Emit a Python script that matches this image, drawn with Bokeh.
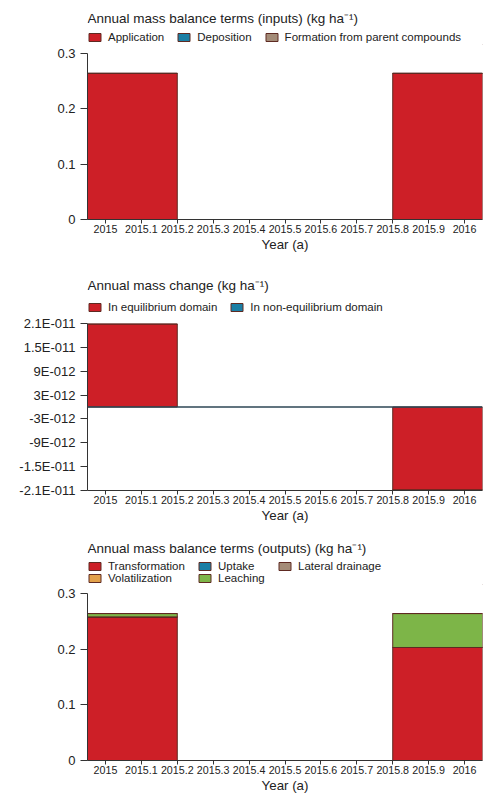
from bokeh.plotting import figure
from bokeh.models import FixedTicker, Legend, LegendItem, Span, Range1d, Label, ColumnDataSource
from bokeh.layouts import column
from bokeh.embed import file_html
from bokeh.resources import INLINE

# ---------------- data ----------------
years = [2015, 2016]

inputs_application = [0.264, 0.264]
inputs_deposition = [0.0, 0.0]
inputs_formation = [0.0, 0.0]

change_equilibrium = [2.09e-11, -2.09e-11]
change_non_equilibrium = [0.0, 0.0]

out_transformation = [0.258, 0.203]
out_uptake = [0.0, 0.0]
out_volatilization = [0.0, 0.0]
out_leaching = [0.006, 0.061]
out_lateral_drainage = [0.0, 0.0]

x_ticks = [2015, 2015.1, 2015.2, 2015.3, 2015.4, 2015.5, 2015.6, 2015.7, 2015.8, 2015.9, 2016]
x_tick_labels = ["2015", "2015.1", "2015.2", "2015.3", "2015.4", "2015.5",
                 "2015.6", "2015.7", "2015.8", "2015.9", "2016"]

y1_ticks = [0, 0.1, 0.2, 0.3]
y1_tick_labels = ["0", "0.1", "0.2", "0.3"]

y2_ticks = [-2.1e-11, -1.5e-11, -9e-12, -3e-12, 3e-12, 9e-12, 1.5e-11, 2.1e-11]
y2_tick_labels = ["-2.1E-011", "-1.5E-011", "-9E-012", "-3E-012",
                  "3E-012", "9E-012", "1.5E-011", "2.1E-011"]

# ---------------- style ----------------
FONT = "Liberation Sans"
TXT = "#222222"
RED = "#cd1f27"
TEAL = "#1b7fa5"
BROWN = "#a48c78"
ORANGE = "#e2a14a"
GREEN = "#7db548"
EDGE = "#5e2a22"
W = 485
LEFT = 87
RIGHT = 3
FW = W - LEFT - RIGHT
BAR_W = 0.4


def make_header(h, title, title_y):
    hp = figure(width=W, height=h, x_range=Range1d(0, FW), y_range=Range1d(0, h),
                x_axis_location=None, y_axis_location=None,
                output_backend="svg", toolbar_location=None,
                min_border_left=LEFT, min_border_right=RIGHT,
                min_border_top=0, min_border_bottom=0)
    hp.xgrid.visible = False
    hp.ygrid.visible = False
    hp.outline_line_color = None
    hp.add_layout(Label(x=0, y=title_y, text=title, text_font=FONT,
                        text_font_size="13.5px", text_color=TXT,
                        text_baseline="middle", text_align="left"))
    return hp


def header_legend(hp, x, y, source, entries, orientation="horizontal"):
    items = []
    for label, col, color in entries:
        r = hp.vbar(x="x", top=col, width=BAR_W, source=source,
                    fill_color=color, line_color=EDGE, line_width=1)
        items.append(LegendItem(label=label, renderers=[r]))
    lg = Legend(items=items, orientation=orientation, location=(x, y),
                label_text_font=FONT, label_text_font_size="11.5px", label_text_color=TXT,
                glyph_width=15, glyph_height=10, label_standoff=6,
                spacing=12 if orientation == "horizontal" else 0,
                label_height=11, padding=0, margin=0, border_line_color=None,
                background_fill_alpha=0)
    hp.add_layout(lg, "center")
    return lg


def make_fig(frame_h, y_range, top, bottom, yticks, ylabels):
    p = figure(width=W, height=frame_h + top + bottom,
               x_range=Range1d(2014.95, 2016.05), y_range=y_range,
               output_backend="svg", toolbar_location=None,
               min_border_left=LEFT, min_border_right=RIGHT,
               min_border_top=top, min_border_bottom=bottom)
    p.xgrid.visible = False
    p.ygrid.visible = False
    p.outline_line_color = None
    ax = p.xaxis[0]
    ax.ticker = FixedTicker(ticks=x_ticks)
    ax.major_label_overrides = {t: l for t, l in zip(x_ticks, x_tick_labels)}
    ax.axis_label = "Year (a)"
    ax.axis_label_text_font = FONT
    ax.axis_label_text_font_size = "13.3px"
    ax.axis_label_text_font_style = "normal"
    ax.axis_label_text_color = TXT
    ax.axis_label_standoff = 1
    ax.major_label_text_font = FONT
    ax.major_label_text_font_size = "10.7px"
    ax.major_label_text_color = TXT
    ax.major_label_standoff = 1
    ax.major_tick_out = 4
    ax.major_tick_in = 0
    ax.minor_tick_out = 0
    ax.minor_tick_in = 0
    ax.axis_line_color = "#333333"
    ax.major_tick_line_color = "#333333"
    ay = p.yaxis[0]
    ay.ticker = FixedTicker(ticks=yticks)
    ay.major_label_overrides = {t: l for t, l in zip(yticks, ylabels)}
    ay.major_label_text_font = FONT
    ay.major_label_text_font_size = "13px"
    ay.major_label_text_color = TXT
    ay.major_label_standoff = 5
    ay.major_tick_out = 7
    ay.major_tick_in = 0
    ay.minor_tick_out = 0
    ay.minor_tick_in = 0
    ay.axis_line_color = "#333333"
    ay.major_tick_line_color = "#333333"
    return p


# ---------------- panel 1: inputs ----------------
src1 = ColumnDataSource(dict(x=years, app=inputs_application, dep=inputs_deposition,
                             form=inputs_formation))
h1 = make_header(45, "Annual mass balance terms (inputs) (kg ha\u207b\u00b9)", 27)
header_legend(h1, 0, 2, src1, [("Application", "app", RED), ("Deposition", "dep", TEAL),
                               ("Formation from parent compounds", "form", BROWN)])
p1 = make_fig(166, Range1d(0, 0.3), 8, 56, y1_ticks, y1_tick_labels)
p1.vbar_stack(["app", "dep", "form"], x="x", width=BAR_W, source=src1,
              color=[RED, TEAL, BROWN], line_color=EDGE, line_width=1)

# ---------------- panel 2: mass change ----------------
src2 = ColumnDataSource(dict(x=years, eq=change_equilibrium, neq=change_non_equilibrium))
h2 = make_header(40, "Annual mass change (kg ha\u207b\u00b9)", 30)
header_legend(h2, 0, 2, src2, [("In equilibrium domain", "eq", RED),
                               ("In non-equilibrium domain", "neq", TEAL)])
p2 = make_fig(167, Range1d(-2.1e-11, 2.1e-11), 8, 48, y2_ticks, y2_tick_labels)
p2.vbar_stack(["eq", "neq"], x="x", width=BAR_W, source=src2,
              color=[RED, TEAL], line_color=EDGE, line_width=1)
p2.add_layout(Span(location=0, dimension="width", line_color="#2d4654", line_width=1.5))

# ---------------- panel 3: outputs ----------------
src3 = ColumnDataSource(dict(x=years, tr=out_transformation, up=out_uptake,
                             vo=out_volatilization, le=out_leaching, la=out_lateral_drainage))
h3 = make_header(47, "Annual mass balance terms (outputs) (kg ha\u207b\u00b9)", 37)
header_legend(h3, 0, 1, src3, [("Transformation", "tr", RED),
                               ("Volatilization", "vo", ORANGE)], "vertical")
header_legend(h3, 110, 1, src3, [("Uptake", "up", TEAL), ("Leaching", "le", GREEN)], "vertical")
header_legend(h3, 190, 13, src3, [("Lateral drainage", "la", BROWN)], "vertical")
p3 = make_fig(168, Range1d(0, 0.3), 8, 34, y1_ticks, y1_tick_labels)
p3.vbar_stack(["tr", "up", "vo", "le", "la"], x="x", width=BAR_W, source=src3,
              color=[RED, TEAL, ORANGE, GREEN, BROWN], line_color=EDGE, line_width=1)

layout = column(h1, p1, h2, p2, h3, p3, spacing=0)
open("out.html", "w").write(file_html(layout, INLINE))
